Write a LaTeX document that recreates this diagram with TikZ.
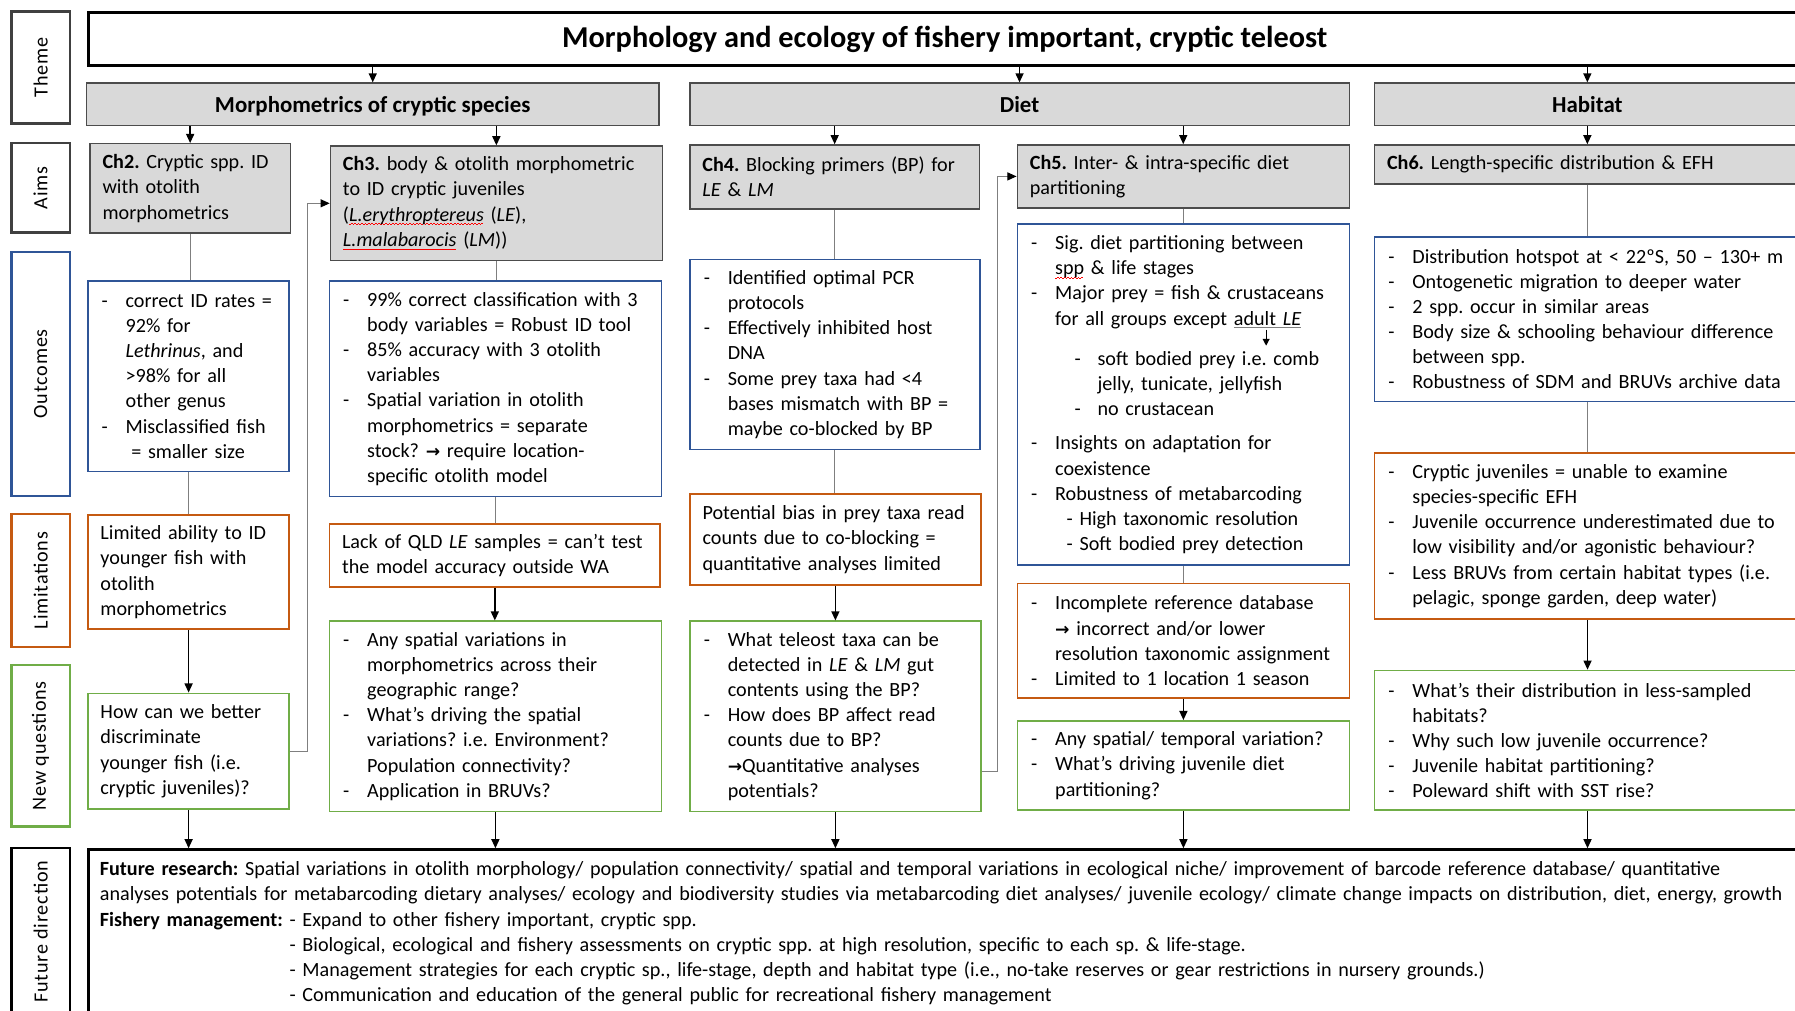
\documentclass[tikz,border=0pt]{standalone}
\usepackage{fontspec}
\setmainfont{Carlito}
\newfontfamily\sidefont[LetterSpace=4]{Carlito}
\newfontfamily\arrowfont{DejaVu Sans}
\usetikzlibrary{arrows.meta}

\definecolor{outblue}{RGB}{47,85,151}
\definecolor{limorange}{RGB}{197,90,17}
\definecolor{qgreen}{RGB}{112,173,71}
\definecolor{aimgray}{RGB}{217,217,217}
\definecolor{linkgray}{RGB}{127,127,127}

\frenchspacing
\newcommand{\bodyfont}{\fontsize{17.6}{22}\selectfont}
\newcommand{\bul}{\makebox[22pt][l]{\hspace{1pt}-}}
\newcommand{\ctn}{\hspace*{22pt}}
\newcommand{\toarrow}{{\arrowfont\bfseries\fontsize{15}{22}\selectfont →}}
% red zigzag under a word
\newcommand{\spellmark}[1]{\leavevmode\setbox0\hbox{#1}\rlap{\textcolor{red}{\hbox to \wd0{\leaders\hbox to 3pt{\rule[-3.4pt]{1.5pt}{0.6pt}\rule[-2.6pt]{1.5pt}{0.6pt}}\hfill}}}\box0\relax}

\begin{document}
\begin{tikzpicture}[x=1pt, y=-1pt, >={Triangle[length=8pt,width=7pt]},
  every node/.style={font=\bodyfont},
  sidebox/.style={draw, line width=2pt, rotate=90, minimum height=51pt, inner sep=0pt, font=\sidefont\bodyfont},
  headbox/.style={draw=black!70, fill=aimgray, line width=1.2pt, minimum height=37pt, text depth=0pt, anchor=north west, font=\fontsize{20}{24}\selectfont\bfseries},
  aimbox/.style={draw=black!70, fill=aimgray, line width=1.2pt, align=left, inner xsep=11pt, inner ysep=3pt, anchor=north west},
  outbox/.style={aimbox, draw=outblue, fill=none, line width=1.5pt},
  limbox/.style={outbox, draw=limorange},
  qbox/.style={outbox, draw=qgreen},
  link/.style={draw=linkgray, line width=1pt},
  flow/.style={->, line width=1.3pt},
  elbow/.style={draw=linkgray, line width=1pt, -{Triangle[length=8pt,width=7pt,color=black]}}]

  \path[use as bounding box, fill=white] (0,0) rectangle (1568,883);

  % row labels
  \node[sidebox, draw=black!75, minimum width=98pt] (sTheme) at (35.5,59) {Theme};
  \node[sidebox, draw=black!75, minimum width=78pt] (sAims) at (35.5,164) {Aims};
  \node[sidebox, draw=outblue, minimum width=213pt] (sOut) at (35.5,326.5) {Outcomes};
  \node[sidebox, draw=limorange, minimum width=116pt] (sLim) at (35.5,507) {Limitations};
  \node[sidebox, draw=qgreen, minimum width=141pt] (sNew) at (35.5,651.5) {New questions};
  \node[sidebox, draw=black, minimum width=146pt] (sFut) at (35.5,814) {Future direction};

  % theme and topics
  \node[draw, line width=2.5pt, minimum width=1496pt, minimum height=46pt, anchor=north west,
        font=\fontsize{26.5}{30}\selectfont\bfseries] (title) at (76,10)
        {Morphology and ecology of fishery important, cryptic teleost};
  \node[headbox, minimum width=500pt] (morph) at (75,72) {Morphometrics of cryptic species};
  \node[headbox, minimum width=576pt] (diet) at (602,72) {Diet};
  \node[headbox, minimum width=372pt] (habitat) at (1200,72) {Habitat};

  % aims
  \node[aimbox, text width=153pt, minimum height=78pt] (ch2) at (78,125)
    {\textbf{Ch2.} Cryptic spp. ID\\with otolith\\morphometrics};
  \node[aimbox, text width=268pt, minimum height=100pt] (ch3) at (288,127)
    {\textbf{Ch3.} body \& otolith morphometric\\to ID cryptic juveniles\\(\spellmark{\textit{L.erythroptereus}} (\textit{LE}),\\\spellmark{\textit{L.malabarocis}} (\textit{LM}))};
  \node[aimbox, text width=231pt, minimum height=56pt] (ch4) at (602,126)
    {\textbf{Ch4.} Blocking primers (BP) for\\\textit{LE} \& \textit{LM}};
  \node[aimbox, text width=268pt, minimum height=55pt] (ch5) at (888,126)
    {\textbf{Ch5.} Inter- \& intra-specific diet\\partitioning};
  \node[aimbox, text width=350pt, minimum height=34pt] (ch6) at (1200,126)
    {\textbf{Ch6.} Length-specific distribution \& EFH};

  % outcomes
  \node[outbox, text width=154pt, minimum height=166pt] (out2) at (76,245)
    {\bul correct ID rates =\\\ctn 92\% for\\\ctn\textit{Lethrinus}, and\\\ctn >98\% for all\\\ctn other genus\\
     \bul Misclassified fish\\\hspace*{27pt}= smaller size};
  \node[outbox, text width=268pt, minimum height=188pt] (out3) at (287,245)
    {\bul 99\% correct classification with 3\\\ctn body variables = Robust ID tool\\
     \bul 85\% accuracy with 3 otolith\\\ctn variables\\
     \bul Spatial variation in otolith\\\ctn morphometrics = separate\\\ctn stock? \toarrow{} require location-\\\ctn specific otolith model};
  \node[outbox, text width=231pt, minimum height=166pt] (out4) at (602,226)
    {\bul Identified optimal PCR\\\ctn protocols\\
     \bul Effectively inhibited host\\\ctn DNA\\
     \bul Some prey taxa had <4\\\ctn bases mismatch with BP =\\\ctn maybe co-blocked by BP};
  \node[outbox, text width=268pt, minimum height=298pt] (out5) at (888,195)
    {\bul Sig. diet partitioning between\\\ctn\spellmark{spp} \& life stages\\
     \bul Major prey = fish \& crustaceans\\\ctn for all groups except \textcolor{linkgray}{\underline{\textcolor{black}{adult \textit{LE}}}}\\[13pt]
     \hspace*{39pt}\makebox[20pt][l]{-}soft bodied prey i.e. comb\\\hspace*{59pt}jelly, tunicate, jellyfish\\
     \hspace*{39pt}\makebox[20pt][l]{-}no crustacean\\[8pt]
     \bul Insights on adaptation for\\\ctn coexistence\\
     \bul Robustness of metabarcoding\\\hspace*{32pt}- High taxonomic resolution\\\hspace*{32pt}- Soft bodied prey detection};
  \node[outbox, text width=350pt, minimum height=144pt] (out6) at (1200,206)
    {\bul Distribution hotspot at < 22ºS, 50 – 130+ m\\
     \bul Ontogenetic migration to deeper water\\
     \bul 2 spp. occur in similar areas\\
     \bul Body size \& schooling behaviour difference\\\ctn between spp.\\
     \bul Robustness of SDM and BRUVs archive data};

  % limitations
  \node[limbox, text width=154pt, minimum height=100pt] (lim2) at (76,449)
    {Limited ability to ID\\younger fish with\\otolith\\morphometrics};
  \node[limbox, text width=267pt, minimum height=55pt] (lim3) at (287,457)
    {Lack of QLD \textit{LE} samples = can’t test\\the model accuracy outside WA};
  \node[limbox, text width=232pt, minimum height=79pt] (lim4) at (602,431)
    {Potential bias in prey taxa read\\counts due to co-blocking =\\quantitative analyses limited};
  \node[limbox, text width=268pt, minimum height=100pt] (lim5) at (888,509)
    {\bul Incomplete reference database\\\ctn\toarrow{} incorrect and/or lower\\\ctn resolution taxonomic assignment\\
     \bul Limited to 1 location 1 season};
  \node[limbox, text width=350pt, minimum height=145pt] (lim6) at (1200,395)
    {\bul Cryptic juveniles = unable to examine\\\ctn species-specific EFH\\
     \bul Juvenile occurrence underestimated due to\\\ctn low visibility and/or agonistic behaviour?\\
     \bul Less BRUVs from certain habitat types (i.e.\\\ctn pelagic, sponge garden, deep water)};

  % new questions
  \node[qbox, text width=154pt, minimum height=101pt] (nq2) at (76,605)
    {How can we better\\discriminate\\younger fish (i.e.\\cryptic juveniles)?};
  \node[qbox, text width=268pt, minimum height=166pt] (nq3) at (287,542)
    {\bul Any spatial variations in\\\ctn morphometrics across their\\\ctn geographic range?\\
     \bul What’s driving the spatial\\\ctn variations? i.e. Environment?\\\ctn Population connectivity?\\
     \bul Application in BRUVs?};
  \node[qbox, text width=232pt, minimum height=166pt] (nq4) at (602,542)
    {\bul What teleost taxa can be\\\ctn detected in \textit{LE} \& \textit{LM} gut\\\ctn contents using the BP?\\
     \bul How does BP affect read\\\ctn counts due to BP?\\\ctn\toarrow Quantitative analyses\\\ctn potentials?};
  \node[qbox, text width=268pt, minimum height=78pt] (nq5) at (888,629)
    {\bul Any spatial/ temporal variation?\\\bul What’s driving juvenile diet\\\ctn partitioning?};
  \node[qbox, text width=350pt, minimum height=122pt] (nq6) at (1200,585)
    {\bul What’s their distribution in less-sampled\\\ctn habitats?\\
     \bul Why such low juvenile occurrence?\\
     \bul Juvenile habitat partitioning?\\
     \bul Poleward shift with SST rise?};

  % future direction
  \node[draw, line width=2.5pt, align=left, text width=1480pt, inner xsep=10pt, minimum height=146pt, anchor=north west] (future) at (76,741)
    {\textbf{Future research:} Spatial variations in otolith morphology/ population connectivity/ spatial and temporal variations in ecological niche/ improvement of barcode reference database/ quantitative\\
     analyses potentials for metabarcoding dietary analyses/ ecology and biodiversity studies via metabarcoding diet analyses/ juvenile ecology/ climate change impacts on distribution, diet, energy, growth\\
     \textbf{Fishery management:} - Expand to other fishery important, cryptic spp.\\
     \hphantom{\textbf{Fishery management:} }- Biological, ecological and fishery assessments on cryptic spp. at high resolution, specific to each sp. \& life-stage.\\
     \hphantom{\textbf{Fishery management:} }- Management strategies for each cryptic sp., life-stage, depth and habitat type (i.e., no-take reserves or gear restrictions in nursery grounds.)\\
     \hphantom{\textbf{Fishery management:} }- Communication and education of the general public for recreational fishery management};

  % connectors
  \foreach \n in {morph,diet,habitat}
    \draw[flow] (title.south -| \n.north) -- (\n.north);
  \draw[flow] (morph.south -| ch2.north) -- (ch2.north);
  \draw[flow] (morph.south -| ch3.north) -- (ch3.north);
  \draw[flow] (diet.south -| ch4.north) -- (ch4.north);
  \draw[flow] (diet.south -| ch5.north) -- (ch5.north);
  \draw[flow] (habitat.south -| ch6.north) -- (ch6.north);
  \foreach \i in {2,...,6} {
    \draw[link] (ch\i.south) -- (ch\i.south |- out\i.north);
    \draw[link] (out\i.south) -- (out\i.south |- lim\i.north);
    \draw[flow] (lim\i.south) -- (lim\i.south |- nq\i.north);
    \draw[flow] (nq\i.south) -- (nq\i.south |- future.north);
  }
  \draw[elbow] (nq2.east) -- ++(15,0) |- (ch3.west);
  \draw[elbow] ([yshift=-48pt]nq4.east) -- ++(14,0) |- (ch5.west);

  % adult LE -> soft bodied prey
  \coordinate (adultLE) at (1106,288);
  \coordinate (softPrey) at (1106,302);
  \draw[->, line width=1pt, >={Triangle[length=6pt,width=6pt]}] (adultLE) -- (softPrey);
\end{tikzpicture}
\end{document}
